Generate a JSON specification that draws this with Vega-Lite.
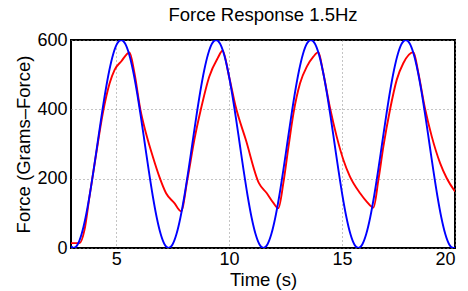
{
  "$schema": "https://vega.github.io/schema/vega-lite/v6.json",
  "autosize": "none",
  "width": 384,
  "height": 208,
  "padding": {"left": 71, "top": 40, "right": 13, "bottom": 43},
  "background": "white",
  "title": {"text": "Force Response 1.5Hz", "font": "Liberation Sans", "fontSize": 18.5, "fontWeight": "normal", "color": "#000", "offset": 7, "anchor": "middle"},
  "config": {
    "view": {"stroke": "black", "strokeWidth": 2},
    "axis": {"labelFont": "Liberation Sans", "titleFont": "Liberation Sans", "labelFontSize": 18, "titleFontSize": 18.5, "titleFontWeight": "normal", "labelColor": "#000", "titleColor": "#000", "domain": false, "ticks": false, "gridColor": "#888", "gridDash": [1, 3], "gridWidth": 1}
  },
  "datasets": {
    "blue": [
      {"t": 3.0, "f": 5},
      {"t": 3.120, "f": 0}, {"t": 3.295, "f": 10.2}, {"t": 3.470, "f": 40.2}, {"t": 3.645, "f": 87.9}, {"t": 3.820, "f": 150}, {"t": 3.995, "f": 222.4},
      {"t": 4.170, "f": 300}, {"t": 4.345, "f": 377.6}, {"t": 4.520, "f": 450}, {"t": 4.695, "f": 512.1}, {"t": 4.870, "f": 559.8}, {"t": 5.045, "f": 589.8},
      {"t": 5.220, "f": 600}, {"t": 5.395, "f": 589.8}, {"t": 5.570, "f": 559.8}, {"t": 5.745, "f": 512.1}, {"t": 5.920, "f": 450}, {"t": 6.095, "f": 377.6},
      {"t": 6.270, "f": 300}, {"t": 6.445, "f": 222.4}, {"t": 6.620, "f": 150}, {"t": 6.795, "f": 87.9}, {"t": 6.970, "f": 40.2}, {"t": 7.145, "f": 10.2},
      {"t": 7.320, "f": 0}, {"t": 7.495, "f": 10.2}, {"t": 7.670, "f": 40.2}, {"t": 7.845, "f": 87.9}, {"t": 8.020, "f": 150}, {"t": 8.195, "f": 222.4},
      {"t": 8.370, "f": 300}, {"t": 8.545, "f": 377.6}, {"t": 8.720, "f": 450}, {"t": 8.895, "f": 512.1}, {"t": 9.070, "f": 559.8}, {"t": 9.245, "f": 589.8},
      {"t": 9.420, "f": 600}, {"t": 9.595, "f": 589.8}, {"t": 9.770, "f": 559.8}, {"t": 9.945, "f": 512.1}, {"t": 10.120, "f": 450}, {"t": 10.295, "f": 377.6},
      {"t": 10.470, "f": 300}, {"t": 10.645, "f": 222.4}, {"t": 10.820, "f": 150}, {"t": 10.995, "f": 87.9}, {"t": 11.170, "f": 40.2}, {"t": 11.345, "f": 10.2},
      {"t": 11.520, "f": 0}, {"t": 11.695, "f": 10.2}, {"t": 11.870, "f": 40.2}, {"t": 12.045, "f": 87.9}, {"t": 12.220, "f": 150}, {"t": 12.395, "f": 222.4},
      {"t": 12.570, "f": 300}, {"t": 12.745, "f": 377.6}, {"t": 12.920, "f": 450}, {"t": 13.095, "f": 512.1}, {"t": 13.270, "f": 559.8}, {"t": 13.445, "f": 589.8},
      {"t": 13.620, "f": 600}, {"t": 13.795, "f": 589.8}, {"t": 13.970, "f": 559.8}, {"t": 14.145, "f": 512.1}, {"t": 14.320, "f": 450}, {"t": 14.495, "f": 377.6},
      {"t": 14.670, "f": 300}, {"t": 14.845, "f": 222.4}, {"t": 15.020, "f": 150}, {"t": 15.195, "f": 87.9}, {"t": 15.370, "f": 40.2}, {"t": 15.545, "f": 10.2},
      {"t": 15.720, "f": 0}, {"t": 15.895, "f": 10.2}, {"t": 16.070, "f": 40.2}, {"t": 16.245, "f": 87.9}, {"t": 16.420, "f": 150}, {"t": 16.595, "f": 222.4},
      {"t": 16.770, "f": 300}, {"t": 16.945, "f": 377.6}, {"t": 17.120, "f": 450}, {"t": 17.295, "f": 512.1}, {"t": 17.470, "f": 559.8}, {"t": 17.645, "f": 589.8},
      {"t": 17.820, "f": 600}, {"t": 17.995, "f": 589.8}, {"t": 18.170, "f": 559.8}, {"t": 18.345, "f": 512.1}, {"t": 18.520, "f": 450}, {"t": 18.695, "f": 377.6},
      {"t": 18.870, "f": 300}, {"t": 19.045, "f": 222.4}, {"t": 19.220, "f": 150}, {"t": 19.395, "f": 87.9}, {"t": 19.570, "f": 40.2}, {"t": 19.745, "f": 10.2},
      {"t": 19.920, "f": 0}, {"t": 20.0, "f": 2}
    ],
    "red": [
      {"t": 3.0, "f": 14}, {"t": 3.38, "f": 14}, {"t": 3.6, "f": 53}, {"t": 3.82, "f": 149}, {"t": 4.12, "f": 274}, {"t": 4.41, "f": 389},
      {"t": 4.71, "f": 475}, {"t": 4.93, "f": 514}, {"t": 5.22, "f": 538}, {"t": 5.59, "f": 564}, {"t": 5.81, "f": 504}, {"t": 6.07, "f": 400},
      {"t": 6.32, "f": 331}, {"t": 6.62, "f": 264}, {"t": 6.91, "f": 206}, {"t": 7.21, "f": 158}, {"t": 7.57, "f": 130}, {"t": 7.87, "f": 106},
      {"t": 8.16, "f": 200}, {"t": 8.46, "f": 312}, {"t": 8.75, "f": 400}, {"t": 9.12, "f": 494}, {"t": 9.49, "f": 547}, {"t": 9.71, "f": 569},
      {"t": 10.0, "f": 494}, {"t": 10.29, "f": 408}, {"t": 10.74, "f": 312}, {"t": 11.32, "f": 187}, {"t": 11.67, "f": 158}, {"t": 11.96, "f": 130},
      {"t": 12.18, "f": 115}, {"t": 12.40, "f": 187}, {"t": 12.63, "f": 293}, {"t": 12.85, "f": 389}, {"t": 13.14, "f": 475}, {"t": 13.44, "f": 523},
      {"t": 13.73, "f": 552}, {"t": 13.95, "f": 565}, {"t": 14.17, "f": 504}, {"t": 14.47, "f": 403}, {"t": 14.76, "f": 322}, {"t": 15.06, "f": 254},
      {"t": 15.35, "f": 206}, {"t": 15.80, "f": 158}, {"t": 16.09, "f": 134}, {"t": 16.39, "f": 117}, {"t": 16.61, "f": 197}, {"t": 16.83, "f": 293},
      {"t": 17.12, "f": 398}, {"t": 17.42, "f": 485}, {"t": 17.71, "f": 533}, {"t": 18.16, "f": 565}, {"t": 18.38, "f": 504}, {"t": 18.67, "f": 403},
      {"t": 18.97, "f": 322}, {"t": 19.34, "f": 245}, {"t": 19.63, "f": 202}, {"t": 20.0, "f": 163}
    ]
  },
  "encoding": {
    "x": {"field": "t", "type": "quantitative", "scale": {"domain": [3, 20], "nice": false, "zero": false}, "axis": {"values": [5, 10, 15, 20], "title": "Time (s)", "labelPadding": 2, "titlePadding": 2}},
    "y": {"field": "f", "type": "quantitative", "scale": {"domain": [0, 600], "nice": false}, "axis": {"values": [0, 200, 400, 600], "title": "Force (Grams–Force)", "labelPadding": 4, "titlePadding": 3}}
  },
  "layer": [
    {"data": {"name": "red"}, "mark": {"type": "line", "color": "#ff0000", "strokeWidth": 1.9, "interpolate": "monotone", "clip": true}},
    {"data": {"name": "blue"}, "mark": {"type": "line", "color": "#0000ff", "strokeWidth": 1.9, "interpolate": "monotone", "clip": true}}
  ]
}
